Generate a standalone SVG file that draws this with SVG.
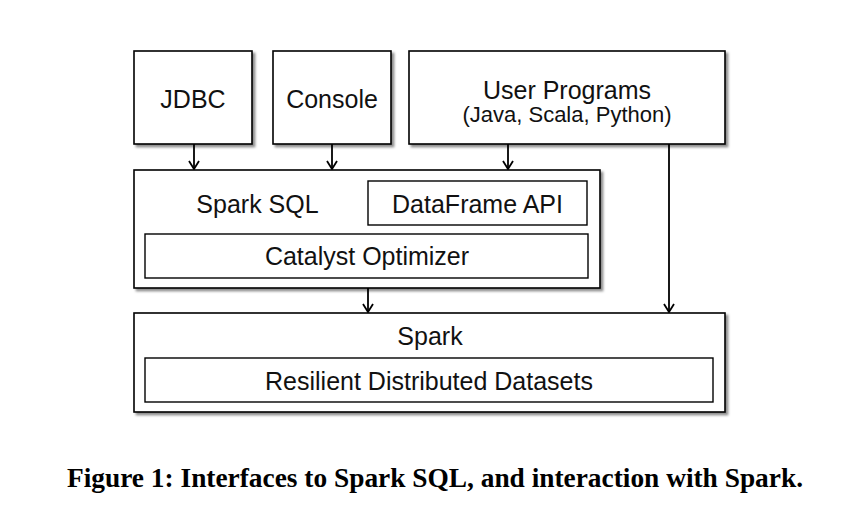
<svg xmlns="http://www.w3.org/2000/svg" width="850" height="519" viewBox="0 0 850 519">
<defs>
<filter id="sh" x="-5%" y="-5%" width="115%" height="120%">
<feDropShadow dx="2.5" dy="2.5" stdDeviation="1.2" flood-color="#000" flood-opacity="0.45"/>
</filter>
<marker id="ah" viewBox="0 0 10 12" refX="9" refY="6" markerWidth="10" markerHeight="12" markerUnits="userSpaceOnUse" orient="auto">
<path d="M1,1 L9,6 L1,11" fill="none" stroke="#000" stroke-width="1.8"/>
</marker>
</defs>
<style>
.box{fill:#fff;stroke:#000;stroke-width:1.6}
.inner{fill:#fff;stroke:#000;stroke-width:1.4}
.lbl{font-family:"Liberation Sans",Arial,sans-serif;font-size:25px;fill:#111;text-anchor:middle}
.sub{font-size:22px}
.con{fill:none;stroke:#000;stroke-width:1.8}
.cap{font-family:"Liberation Serif","Times New Roman",serif;font-weight:bold;font-size:28px;fill:#000;text-anchor:middle}
</style>
<rect width="850" height="519" fill="#fff"/>
<g id="jdbc">
<rect class="box" x="134" y="51" width="118" height="93" filter="url(#sh)"/>
<text class="lbl" x="193" y="108">JDBC</text>
</g>
<g id="console">
<rect class="box" x="273" y="51" width="118" height="93" filter="url(#sh)"/>
<text class="lbl" x="332" y="108">Console</text>
</g>
<g id="user-programs">
<rect class="box" x="409" y="51" width="316" height="93" filter="url(#sh)"/>
<text class="lbl" x="567" y="99">User Programs</text>
<text class="lbl sub" x="567" y="122">(Java, Scala, Python)</text>
</g>
<g id="spark-sql">
<rect class="box" x="134" y="170" width="466" height="118" filter="url(#sh)"/>
<text class="lbl" x="257.5" y="213">Spark SQL</text>
</g>
<g id="dataframe-api">
<rect class="inner" x="368" y="181" width="219" height="44"/>
<text class="lbl" x="477.5" y="213">DataFrame API</text>
</g>
<g id="catalyst-optimizer">
<rect class="inner" x="145" y="234" width="443" height="44"/>
<text class="lbl" x="367" y="265">Catalyst Optimizer</text>
</g>
<g id="spark">
<rect class="box" x="134" y="313" width="591" height="99" filter="url(#sh)"/>
<text class="lbl" x="430" y="345">Spark</text>
</g>
<g id="rdd">
<rect class="inner" x="145" y="358" width="568" height="44"/>
<text class="lbl" x="429" y="390">Resilient Distributed Datasets</text>
</g>
<g id="connectors">
<line class="con" x1="194" y1="144" x2="194" y2="169" marker-end="url(#ah)"/>
<line class="con" x1="332" y1="144" x2="332" y2="169" marker-end="url(#ah)"/>
<line class="con" x1="508" y1="144" x2="508" y2="169" marker-end="url(#ah)"/>
<line class="con" x1="368" y1="288" x2="368" y2="312" marker-end="url(#ah)"/>
<line class="con" x1="669" y1="144" x2="669" y2="312" marker-end="url(#ah)"/>
</g>
<text class="cap" x="435" y="487" textLength="736" lengthAdjust="spacingAndGlyphs">Figure 1: Interfaces to Spark SQL, and interaction with Spark.</text>
</svg>
